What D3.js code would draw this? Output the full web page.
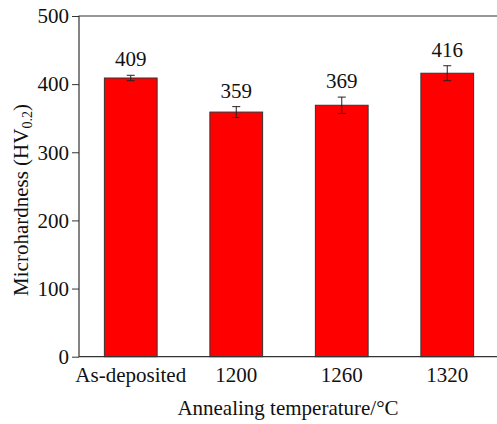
<!DOCTYPE html>
<html>
<head>
<meta charset="utf-8">
<script src="https://cdn.jsdelivr.net/npm/d3@7"></script>
<style>
  body { margin: 0; background: #fff; }
  svg { display: block; }
</style>
</head>
<body>
<svg id="chart" width="497" height="424" font-family="Liberation Serif"></svg>
<script>
const categories = ['As-deposited', '1200', '1260', '1320'];
const hardness = [409, 359, 369, 416];
const errors = [4, 8, 12, 11];
const yTicks = [0, 100, 200, 300, 400, 500];

const FONT = 'Liberation Serif';
const data = categories.map((c, i) => ({ cat: c, value: hardness[i], err: errors[i] }));

const svg = d3.select('#chart');
const margin = { top: 16, right: 0, bottom: 67.3, left: 79 };
const width = +svg.attr('width');
const height = +svg.attr('height');
const innerHeight = height - margin.top - margin.bottom;

const xScale = d3.scaleBand()
  .domain(categories)
  .range([margin.left - 1, 500])
  .paddingInner(0.5)
  .paddingOuter(0.25);

const yScale = d3.scaleLinear()
  .domain([0, 500])
  .range([margin.top + innerHeight, margin.top]);

// bars
svg.append('g').selectAll('rect')
  .data(data)
  .enter().append('rect')
    .attr('x', d => xScale(d.cat))
    .attr('y', d => yScale(d.value))
    .attr('width', xScale.bandwidth())
    .attr('height', d => yScale(0) - yScale(d.value))
    .attr('fill', '#ff0000')
    .attr('stroke', '#333')
    .attr('stroke-width', 1);

// error bars
const errG = svg.append('g').attr('stroke', '#222').attr('stroke-width', 1);
data.forEach(d => {
  const cx = xScale(d.cat) + xScale.bandwidth() / 2;
  errG.append('line')
    .attr('x1', cx).attr('x2', cx)
    .attr('y1', yScale(d.value - d.err)).attr('y2', yScale(d.value + d.err));
  [d.value - d.err, d.value + d.err].forEach(v => {
    errG.append('line')
      .attr('x1', cx - 4).attr('x2', cx + 4)
      .attr('y1', yScale(v)).attr('y2', yScale(v));
  });
});

// value labels
svg.append('g').selectAll('text')
  .data(data)
  .enter().append('text')
    .attr('x', d => xScale(d.cat) + xScale.bandwidth() / 2)
    .attr('y', d => yScale(d.value + d.err) - 9)
    .attr('text-anchor', 'middle')
    .attr('font-family', FONT)
    .attr('font-size', 21)
    .attr('fill', '#111')
    .text(d => d.value);

// axes
const lineConfig = g => {
  g.attr('font-family', FONT).attr('font-size', 21);
  g.select('.domain').remove();
  g.selectAll('line').attr('stroke', '#333');
  g.selectAll('text')
    .attr('fill', '#111');
};

svg.append('g')
  .attr('transform', `translate(${margin.left}, 0)`)
  .call(d3.axisLeft(yScale).tickValues(yTicks).tickSize(7).tickPadding(3))
  .call(lineConfig);

svg.append('g')
  .attr('transform', `translate(0, ${yScale(0)})`)
  .call(d3.axisBottom(xScale).tickSize(0).tickPadding(10))
  .call(lineConfig);

// frame: left, bottom, top
svg.append('path')
  .attr('d', `M${width},${yScale(500)} H${margin.left} V${yScale(0)} H${width}`)
  .attr('fill', 'none')
  .attr('stroke', '#333')
  .attr('stroke-width', 1.2);

// axis titles
svg.append('text')
  .attr('x', (margin.left + width) / 2)
  .attr('y', 415)
  .attr('text-anchor', 'middle')
  .attr('font-family', FONT)
  .attr('font-size', 21)
  .attr('fill', '#111')
  .text('Annealing temperature/°C');

const yLabel = svg.append('text')
  .attr('transform', 'translate(28, 200) rotate(-90)')
  .attr('text-anchor', 'middle')
  .attr('font-family', FONT)
  .attr('font-size', 21)
  .attr('fill', '#111');
yLabel.append('tspan').text('Microhardness (HV');
yLabel.append('tspan').attr('font-size', 14).attr('dy', 4).text('0.2');
yLabel.append('tspan').attr('dy', -4).text(')');
</script>
</body>
</html>
